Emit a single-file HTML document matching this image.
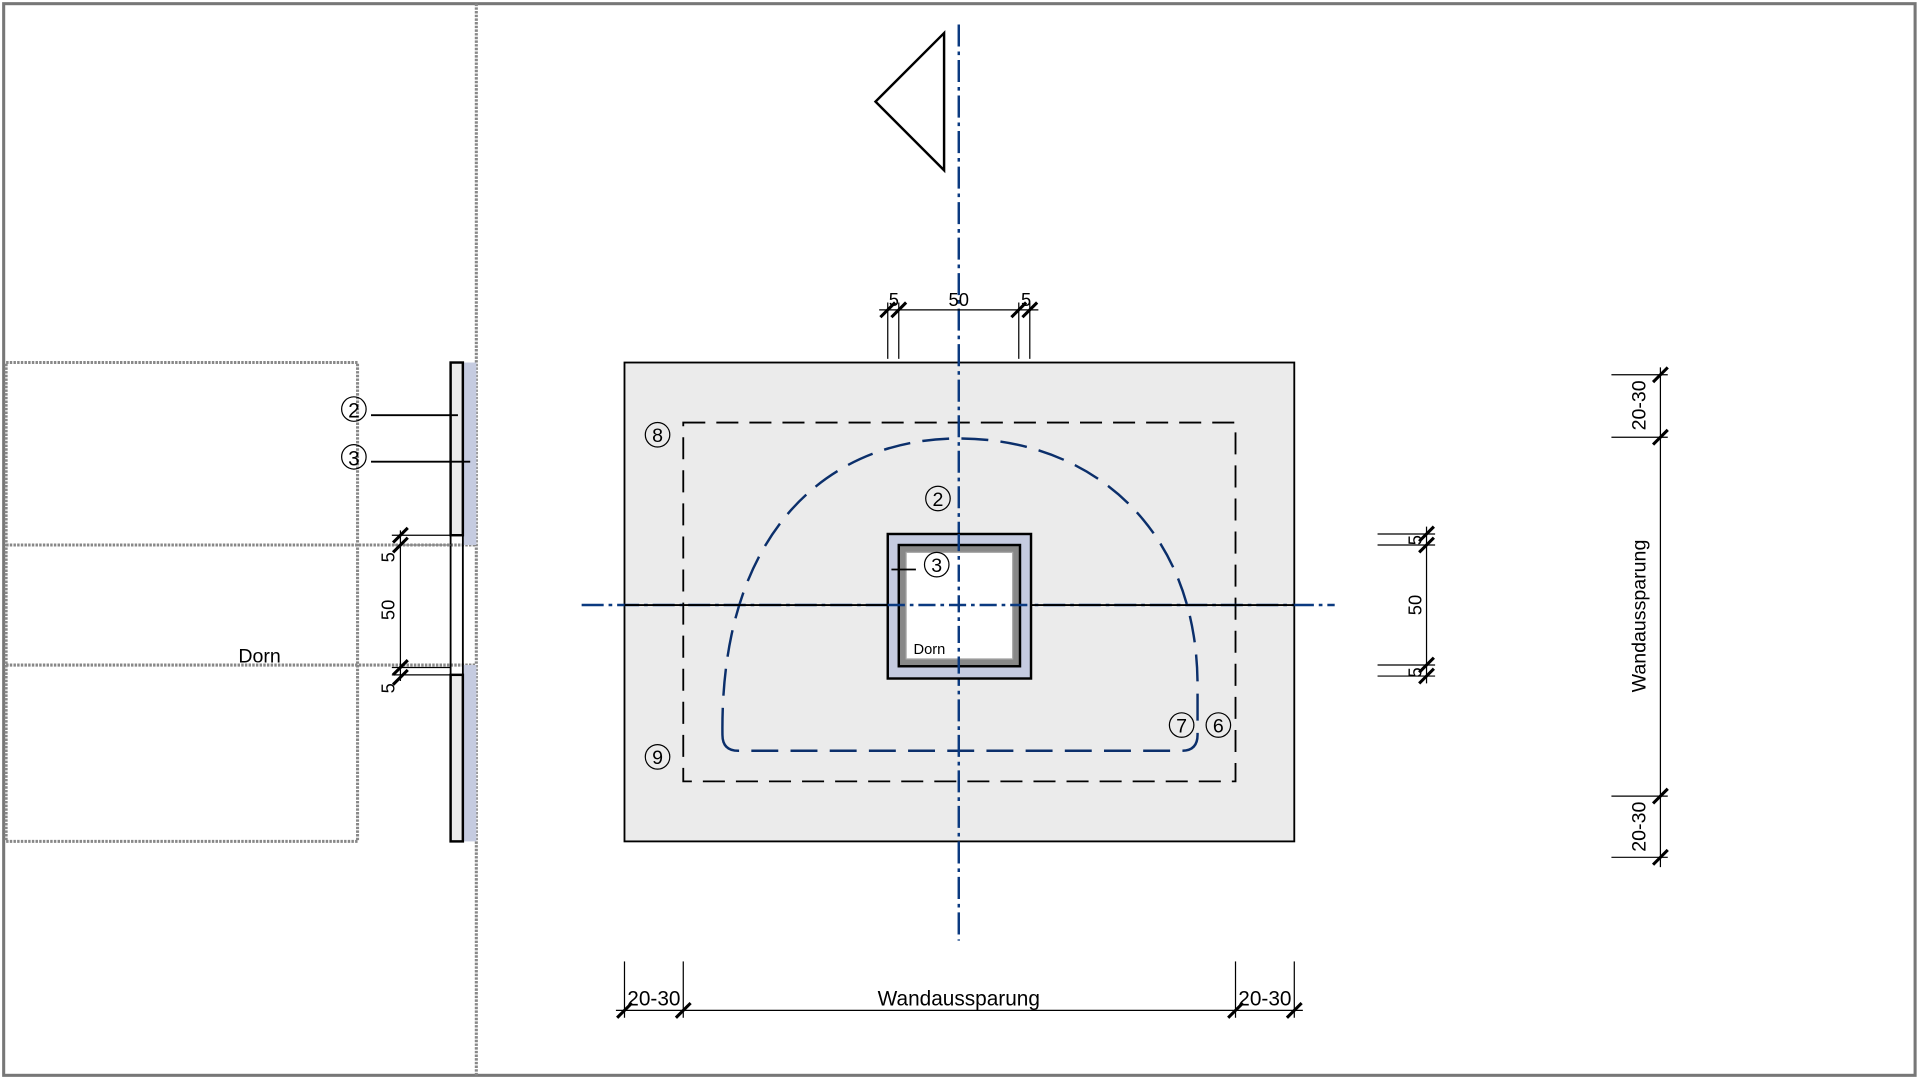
<!DOCTYPE html>
<html><head><meta charset="utf-8"><style>html,body{margin:0;padding:0;background:#fff}svg{display:block}text{font-family:"Liberation Sans",sans-serif}</style></head><body>
<svg width="1920" height="1079" viewBox="0 0 1568 881" preserveAspectRatio="none" xmlns="http://www.w3.org/2000/svg">
<rect x="0" y="0" width="1568" height="881" fill="#fff"/>
<rect x="3" y="3" width="1561" height="875" fill="none" stroke="#777" stroke-width="2.5"/>
<line x1="389" y1="3" x2="389" y2="878" stroke="#888" stroke-width="2.5" stroke-dasharray="2 1"/>
<g stroke="#888" stroke-width="2.5" fill="none" stroke-dasharray="2 1">
<rect x="5" y="296" width="287" height="391"/>
<line x1="5" y1="445" x2="389" y2="445"/>
<line x1="5" y1="543" x2="389" y2="543"/>
</g>
<text x="212" y="541" font-size="16" text-anchor="middle">Dorn</text>
<!-- wall -->
<rect x="378" y="296" width="11" height="149" fill="#c5cbe0"/>
<rect x="378" y="543" width="11" height="144" fill="#c5cbe0"/>
<rect x="368" y="296" width="10" height="141" fill="#ececec" stroke="#000" stroke-width="2"/>
<rect x="368" y="551" width="10" height="136" fill="#ececec" stroke="#000" stroke-width="2"/>
<line x1="368" y1="437" x2="368" y2="551" stroke="#000" stroke-width="1.5"/>
<line x1="378" y1="296" x2="378" y2="687" stroke="#000" stroke-width="1.5"/>
<line x1="303" y1="339" x2="374" y2="339" stroke="#000" stroke-width="1.5"/>
<line x1="303" y1="377" x2="384" y2="377" stroke="#000" stroke-width="1.5"/>
<g stroke="#000" stroke-width="1">
<circle cx="289" cy="334" r="10" fill="none"/><circle cx="289" cy="373" r="10" fill="none"/>
</g>
<text x="289" y="341" font-size="17" text-anchor="middle">2</text>
<text x="289" y="380" font-size="17" text-anchor="middle">3</text>
<g stroke="#000" stroke-width="1">
<line x1="327" y1="433" x2="327" y2="556"/>
<line x1="320" y1="437" x2="368" y2="437"/><line x1="320" y1="545" x2="368" y2="545"/>
<line x1="320" y1="445" x2="368" y2="445" stroke="#888"/><line x1="320" y1="551" x2="368" y2="551"/>
</g>
<g stroke="#000" stroke-width="2.5">
<line x1="321" y1="443" x2="333" y2="431"/><line x1="321" y1="451" x2="333" y2="439"/>
<line x1="321" y1="551" x2="333" y2="539"/><line x1="321" y1="559" x2="333" y2="547"/>
</g>
<g font-size="15">
<text transform="translate(322,455) rotate(-90)" text-anchor="middle">5</text>
<text transform="translate(322,498) rotate(-90)" text-anchor="middle">50</text>
<text transform="translate(322,562) rotate(-90)" text-anchor="middle">5</text>
</g>
<!-- center -->
<rect x="510" y="296" width="547" height="391" fill="#ebebeb" stroke="#000" stroke-width="1.5"/>
<rect x="558" y="345" width="451" height="293" fill="none" stroke="#000" stroke-width="1.5" stroke-dasharray="18 9"/>
<path d="M590 600 C588 430 680 358 783 358 C890 358 978 430 978 560 L978 600 Q978 613 965 613 L603 613 Q590 613 590 600 Z" fill="none" stroke="#0b2f6b" stroke-width="2" stroke-dasharray="22 10"/>
<line x1="783" y1="20" x2="783" y2="768" stroke="#0b3a80" stroke-width="2" stroke-dasharray="18 4 3 4"/>
<line x1="475" y1="494" x2="1090" y2="494" stroke="#0b3a80" stroke-width="2" stroke-dasharray="18 4 3 4"/>
<line x1="510" y1="494" x2="1057" y2="494" stroke="#000" stroke-width="1.5"/>
<rect x="725" y="436" width="117" height="118" fill="#c5cbe0" stroke="#000" stroke-width="2"/>
<rect x="734" y="445" width="99" height="99" fill="#888" stroke="#000" stroke-width="2"/>
<rect x="740" y="451" width="87" height="87" fill="#fff" stroke="#aaa" stroke-width="1"/>
<line x1="783" y1="436" x2="783" y2="554" stroke="#0b3a80" stroke-width="2" stroke-dasharray="14 4 3 4"/>
<line x1="725" y1="494" x2="842" y2="494" stroke="#0b3a80" stroke-width="2" stroke-dasharray="14 4 3 4"/>
<line x1="728" y1="465" x2="748" y2="465" stroke="#000" stroke-width="1.5"/>
<text x="759" y="534" font-size="12" text-anchor="middle">Dorn</text>
<g stroke="#000" stroke-width="1" fill="none">
<circle cx="765" cy="461" r="10"/><circle cx="766" cy="407" r="10"/><circle cx="537" cy="355" r="10"/>
<circle cx="537" cy="618" r="10"/><circle cx="965" cy="592" r="10"/><circle cx="995" cy="592" r="10"/>
</g>
<g font-size="16" text-anchor="middle">
<text x="765" y="467">3</text><text x="766" y="413">2</text><text x="537" y="361">8</text>
<text x="537" y="624">9</text><text x="965" y="598">7</text><text x="995" y="598">6</text>
</g>
<polygon points="771,27 715,83 771,139" fill="#fff" stroke="#000" stroke-width="2"/>
<!-- top dims -->
<g stroke="#000" stroke-width="1">
<line x1="718" y1="253" x2="848" y2="253"/>
<line x1="725" y1="247" x2="725" y2="293"/><line x1="734" y1="247" x2="734" y2="293"/>
<line x1="832" y1="247" x2="832" y2="293"/><line x1="841" y1="247" x2="841" y2="293"/>
</g>
<g stroke="#000" stroke-width="2.5">
<line x1="719" y1="259" x2="731" y2="247"/><line x1="728" y1="259" x2="740" y2="247"/>
<line x1="826" y1="259" x2="838" y2="247"/><line x1="835" y1="259" x2="847" y2="247"/>
</g>
<g font-size="15" text-anchor="middle"><text x="730" y="250">5</text><text x="783" y="250">50</text><text x="838" y="250">5</text></g>
<!-- right small dims -->
<g stroke="#000" stroke-width="1">
<line x1="1165" y1="430" x2="1165" y2="558"/>
<line x1="1125" y1="436" x2="1172" y2="436"/><line x1="1125" y1="445" x2="1172" y2="445"/>
<line x1="1125" y1="543" x2="1172" y2="543"/><line x1="1125" y1="552" x2="1172" y2="552"/>
</g>
<g stroke="#000" stroke-width="2.5">
<line x1="1159" y1="442" x2="1171" y2="430"/><line x1="1159" y1="451" x2="1171" y2="439"/>
<line x1="1159" y1="549" x2="1171" y2="537"/><line x1="1159" y1="558" x2="1171" y2="546"/>
</g>
<g font-size="15" text-anchor="middle">
<text transform="translate(1161,441) rotate(-90)">5</text>
<text transform="translate(1161,494) rotate(-90)">50</text>
<text transform="translate(1161,549) rotate(-90)">5</text>
</g>
<!-- far right -->
<g stroke="#000" stroke-width="1">
<line x1="1356" y1="300" x2="1356" y2="708"/>
<line x1="1316" y1="306" x2="1362" y2="306"/><line x1="1316" y1="357" x2="1362" y2="357"/>
<line x1="1316" y1="650" x2="1362" y2="650"/><line x1="1316" y1="700" x2="1362" y2="700"/>
</g>
<g stroke="#000" stroke-width="2.5">
<line x1="1350" y1="312" x2="1362" y2="300"/><line x1="1350" y1="363" x2="1362" y2="351"/>
<line x1="1350" y1="656" x2="1362" y2="644"/><line x1="1350" y1="706" x2="1362" y2="694"/>
</g>
<g font-size="16" text-anchor="middle">
<text transform="translate(1344,331) rotate(-90)">20-30</text>
<text transform="translate(1344,503) rotate(-90)">Wandaussparung</text>
<text transform="translate(1344,675) rotate(-90)">20-30</text>
</g>
<!-- bottom -->
<g stroke="#000" stroke-width="1">
<line x1="503" y1="825" x2="1064" y2="825"/>
<line x1="510" y1="785" x2="510" y2="831"/><line x1="558" y1="785" x2="558" y2="831"/>
<line x1="1009" y1="785" x2="1009" y2="831"/><line x1="1057" y1="785" x2="1057" y2="831"/>
</g>
<g stroke="#000" stroke-width="2.5">
<line x1="504" y1="831" x2="516" y2="819"/><line x1="552" y1="831" x2="564" y2="819"/>
<line x1="1003" y1="831" x2="1015" y2="819"/><line x1="1051" y1="831" x2="1063" y2="819"/>
</g>
<g font-size="17" text-anchor="middle">
<text x="534" y="821">20-30</text><text x="783" y="821">Wandaussparung</text><text x="1033" y="821">20-30</text>
</g>
</svg>
</body></html>
